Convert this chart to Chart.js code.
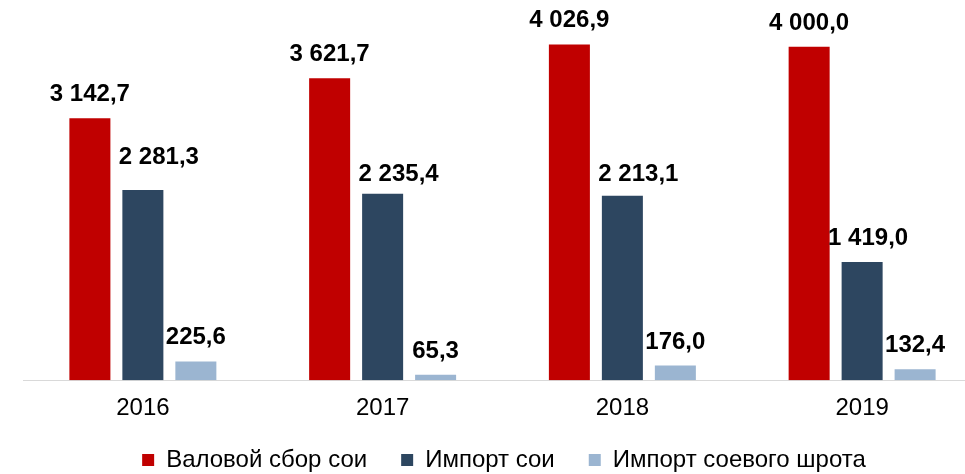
<!DOCTYPE html>
<html lang="ru">
<head>
    <meta charset="UTF-8">
    <title>Соя</title>
    <script src="https://cdn.jsdelivr.net/npm/chart.js"></script>
    <style>
        * { margin: 0; padding: 0; box-sizing: border-box; }
        body { background: #fff; width: 965px; height: 474px; overflow: hidden; }
        .chart-container { position: relative; width: 1010px; height: 474px; }
    </style>
</head>
<body>
    <div class="chart-container">
        <canvas id="soyChart"></canvas>
    </div>

    <script>
        // данные
        const years = ['2016', '2017', '2018', '2019'];
        const grossHarvest = [3142.7, 3621.7, 4026.9, 4000.0];
        const soyImport = [2281.3, 2235.4, 2213.1, 1419.0];
        const mealImport = [225.6, 65.3, 176.0, 132.4];

        const seriesNames = ['Валовой сбор сои', 'Импорт сои', 'Импорт соевого шрота'];
        const seriesColors = ['#C00000', '#2D4660', '#9BB5D1'];

        const FONT = '"Liberation Sans", Arial, sans-serif';

        // подписи второй серии в оригинале немного сдвинуты вручную
        const labelShift = [
            null,
            { dx: [16, 16, 16, 6], dy: [-9, 4, 2, 0] },
            null
        ];

        function fmt(v) {
            const parts = v.toFixed(1).split('.');
            return parts[0].replace(/\B(?=(\d{3})+(?!\d))/g, ' ') + ',' + parts[1];
        }

        // подписи значений над столбцами
        const valueLabels = {
            id: 'valueLabels',
            afterDatasetsDraw(chart) {
                const ctx = chart.ctx;
                ctx.save();
                ctx.font = 'bold 24px ' + FONT;
                ctx.fillStyle = '#000';
                ctx.textAlign = 'center';
                ctx.textBaseline = 'alphabetic';
                chart.data.datasets.forEach((ds, i) => {
                    const meta = chart.getDatasetMeta(i);
                    meta.data.forEach((bar, j) => {
                        const s = labelShift[i];
                        const dx = s ? s.dx[j] : 0;
                        const dy = s ? s.dy[j] : 0;
                        ctx.fillText(fmt(ds.data[j]), bar.x + dx, bar.y - 17 + dy);
                    });
                });
                ctx.restore();
            }
        };

        // легенда: компактная высота и сдвиг вверх
        const legendFit = {
            id: 'legendFit',
            beforeInit(chart) {
                const fit = chart.legend.fit;
                chart.legend.fit = function () {
                    fit.bind(chart.legend)();
                    this.height = 37;
                };
            },
            afterLayout(chart) {
                chart.legend.top -= 23;
                chart.legend.left += 3;
            }
        };

        const data = {
            labels: years,
            datasets: [grossHarvest, soyImport, mealImport].map((vals, i) => ({
                label: seriesNames[i],
                data: vals,
                backgroundColor: seriesColors[i],
                borderWidth: 0,
                categoryPercentage: 0.663,
                barPercentage: 0.774
            }))
        };

        new Chart(document.getElementById('soyChart'), {
            type: 'bar',
            data: data,
            plugins: [valueLabels, legendFit],
            options: {
                responsive: true,
                maintainAspectRatio: false,
                animation: false,
                layout: { padding: { left: 23, right: 28, top: 0, bottom: 0 } },
                scales: {
                    x: {
                        grid: { display: false, drawTicks: false },
                        border: { display: true, color: '#D9D9D9', width: 1 },
                        ticks: {
                            color: '#000',
                            padding: 14,
                            font: { family: FONT, size: 24 }
                        }
                    },
                    y: {
                        display: false,
                        min: 0,
                        max: 4560
                    }
                },
                plugins: {
                    legend: {
                        position: 'bottom',
                        labels: {
                            color: '#000',
                            boxWidth: 12,
                            boxHeight: 12,
                            padding: 34,
                            font: { family: FONT, size: 24 }
                        }
                    },
                    tooltip: { enabled: false }
                }
            }
        });
    </script>
</body>
</html>
